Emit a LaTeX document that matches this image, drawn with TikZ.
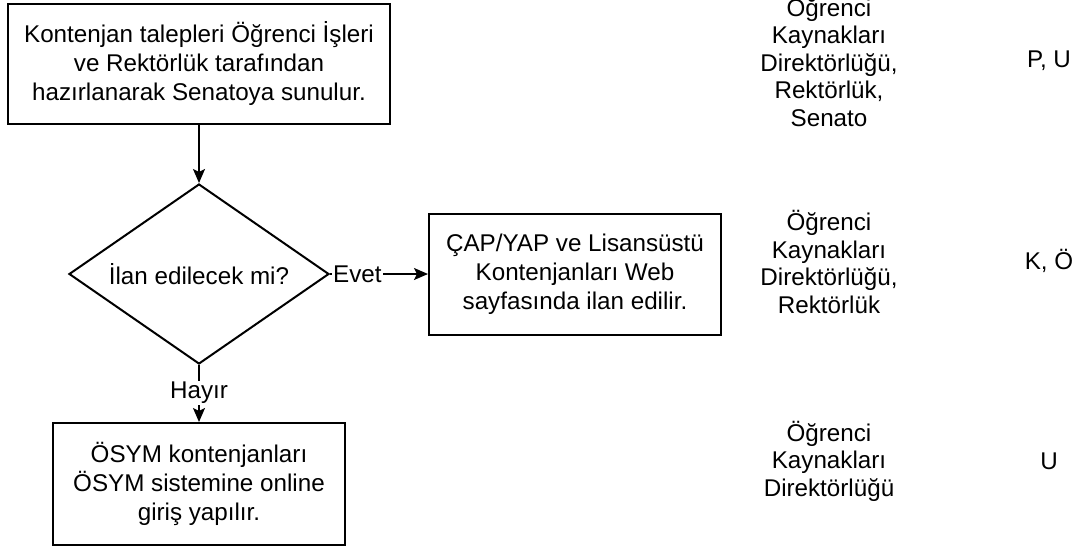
\documentclass[tikz,border=0pt]{standalone}
\usepackage{fontspec}
\setmainfont{Liberation Sans}
\usetikzlibrary{shapes.geometric,arrows.meta}
\begin{document}
\begin{tikzpicture}[x=1pt,y=-1pt,
  font=\fontsize{24.2}{29}\selectfont,
  proc/.style={draw, line width=2pt, align=center, inner sep=0pt},
  dec/.style={draw, diamond, line width=2pt, aspect=1.444, inner sep=0pt,
              minimum width=260pt, minimum height=180pt},
  lane/.style={align=center, inner sep=0pt, font=\fontsize{24.2}{27.5}\selectfont},
  conn/.style={line width=1.8pt, -{Stealth[length=14pt,width=12pt,inset=3pt]}},
  lbl/.style={fill=white, inner sep=1pt}]
\useasboundingbox (0,0) rectangle (1078,549);

\node[proc, minimum width=382pt, minimum height=120pt] (b1) at (199,64)
  {Kontenjan talepleri Öğrenci İşleri\\ve Rektörlük tarafından\\hazırlanarak Senatoya sunulur.};
\node[dec] (d) at (199,274) {İlan edilecek mi?};
\node[proc, minimum width=292pt, minimum height=121pt] (b2) at (575,274)
  {ÇAP/YAP ve Lisansüstü\\Kontenjanları Web\\sayfasında ilan edilir.};
\node[proc, minimum width=292pt, minimum height=122pt] (b3) at (199,484)
  {ÖSYM kontenjanları\\ÖSYM sistemine online\\giriş yapılır.};

\draw[conn] (b1) -- (d);
\draw[conn] (d.east) -- node[lbl, pos=0.28] {Evet} (b2.west);
\draw[conn] (d.south) -- node[lbl, pos=0.49] {Hayır} (b3.north);

\node[lane] (r1) at (829,61) {Öğrenci\\Kaynakları\\Direktörlüğü,\\Rektörlük,\\Senato};
\node[lane] (r2) at (829,262) {Öğrenci\\Kaynakları\\Direktörlüğü,\\Rektörlük};
\node[lane] (r3) at (829,461) {Öğrenci\\Kaynakları\\Direktörlüğü};
\node[lane] (c1) at (1049,61) {P, U};
\node[lane] (c2) at (1049,261) {K, Ö};
\node[lane] (c3) at (1049,461) {U};
\end{tikzpicture}
\end{document}
